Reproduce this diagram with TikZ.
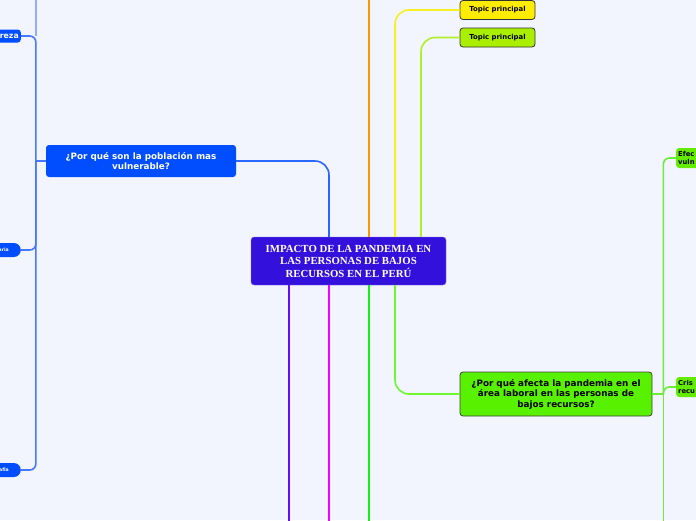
\documentclass[tikz,border=0pt]{standalone}
\usepackage{fontspec}
\setmainfont{DejaVu Sans}
\newfontfamily\corefont{Liberation Serif}
\usetikzlibrary{positioning,calc}
\definecolor{bgCol}{RGB}{242,245,253}
\definecolor{coreCol}{RGB}{52,16,220}
\definecolor{whyCol}{RGB}{0,78,255}
\definecolor{whyLine}{RGB}{70,120,255}
\definecolor{laborCol}{RGB}{88,242,0}
\definecolor{laborLine}{RGB}{110,236,60}
\definecolor{kidCol}{RGB}{100,236,0}
\definecolor{topAcol}{RGB}{255,236,0}
\definecolor{topBcol}{RGB}{170,238,0}
\definecolor{orangeCol}{RGB}{255,150,0}
\definecolor{yelLine}{RGB}{245,240,30}
\definecolor{ygLine}{RGB}{175,240,40}
\definecolor{purpCol}{RGB}{105,10,255}
\definecolor{magCol}{RGB}{250,0,250}
\definecolor{grnCol}{RGB}{20,240,20}
\definecolor{lgrnCol}{RGB}{110,248,50}
\tikzset{
  topic/.style={rounded corners=3pt,align=center,inner sep=2pt,font=\bfseries},
  core/.style={topic,fill=coreCol,draw=coreCol!60!white,thin,text=white,
               font=\corefont\bfseries\fontsize{10.8}{12.5}\selectfont,
               minimum width=195pt,minimum height=48pt},
  why/.style={topic,fill=whyCol,text=white,font=\bfseries\fontsize{8.8}{10.5}\selectfont},
  labor/.style={topic,fill=laborCol,draw=black!75,line width=0.8pt,
                font=\bfseries\fontsize{8.8}{10.5}\selectfont},
  main/.style={topic,draw=black!80,line width=0.8pt,minimum width=75pt,minimum height=19pt,
               font=\bfseries\fontsize{6.9}{8}\selectfont},
  leaf/.style={topic,fill=whyCol,text=white,text width=36pt,align=right},
  pill/.style={leaf,minimum height=14pt,rounded corners=7pt,
               font=\bfseries\fontsize{4.6}{5}\selectfont},
  kid/.style={topic,fill=kidCol,text width=36pt,align=left,minimum height=20pt,
              font=\bfseries\fontsize{6.8}{8}\selectfont},
  trunk/.style={line width=2.5pt},
  branch/.style={line width=1.6pt,rounded corners=14pt},
  twig/.style={line width=1.6pt,rounded corners=6pt},
}

\begin{document}
\begin{tikzpicture}[x=1pt,y=-1pt]
  \fill[bgCol] (0,0) rectangle (696,520);
  \useasboundingbox (0,0) rectangle (696,520);
  \coordinate (top) at (0,-3);
  \coordinate (bot) at (0,523);

  % central topic and the main topics round it
  \node[core] (core) at (348.5,261) {IMPACTO DE LA PANDEMIA EN\\LAS PERSONAS DE BAJOS\\RECURSOS EN EL PERÚ};
  \node[why,minimum width=190pt,minimum height=32pt] (why) at (141,161) {¿Por qué son la población mas\\vulnerable?};
  \node[labor,minimum width=192pt,minimum height=44pt] (labor) at (556,394) {¿Por qué afecta la pandemia en el\\área laboral en las personas de\\bajos recursos?};
  \node[main,fill=topAcol] (topA) at (497.5,10) {Topic principal};
  \node[main,fill=topBcol] (topB) at (497.5,37.5) {Topic principal};

  % subtopics, cut by the page edge
  \node[leaf,anchor=east,minimum height=13pt,font=\bfseries\fontsize{7.8}{9}\selectfont] (pobreza) at (21,36) {reza};
  \node[pill,anchor=east] (aria) at (21,250) {aria\hspace*{10pt}};
  \node[pill,anchor=east] (afia) at (21,470) {afia\hspace*{10pt}};
  \node[kid,anchor=west] (efec) at (676,158) {Efec\\vuln};
  \node[kid,anchor=west] (cris) at (676,387) {Cris\\recu};

  % connectors from the central topic
  \draw[branch,whyLine!60!whyCol] ([xshift=-19.5]core.north) |- (why.east);
  \draw[trunk,orangeCol] ([xshift=20.5]core.north) -- ([xshift=20.5]core.north |- top);
  \draw[branch,yelLine] ([xshift=46.5]core.north) |- (topA.west);
  \draw[branch,ygLine] ([xshift=72.5]core.north) |- (topB.west);
  \foreach \dx/\col in {-59.5/purpCol,-19.5/magCol,20.5/grnCol}
    \draw[trunk,\col] ([xshift=\dx]core.south) -- ([xshift=\dx]core.south |- bot);
  \draw[branch,lgrnCol] ([xshift=46.5]core.south) |- (labor.west);

  % left tree
  \coordinate (wj) at ([xshift=-10]why.west);
  \draw[twig,whyLine] (why.west) -- (wj);
  \draw[twig,whyLine] (wj) |- (pobreza.east);
  \draw[twig,whyLine] (wj) |- (aria.east);
  \draw[twig,whyLine] (wj) |- (afia.east);
  \draw[twig,whyLine!60!white] (pobreza.east -| wj) -- (wj |- top);

  % right tree
  \coordinate (lj) at ([xshift=11]labor.east);
  \draw[twig,laborLine] (labor.east) -- (lj);
  \draw[twig,laborLine] (lj) |- (efec.west);
  \draw[twig,laborLine] (lj) |- (cris.west);
  \draw[twig,laborLine] (lj) -- (lj |- bot);
\end{tikzpicture}
\end{document}
